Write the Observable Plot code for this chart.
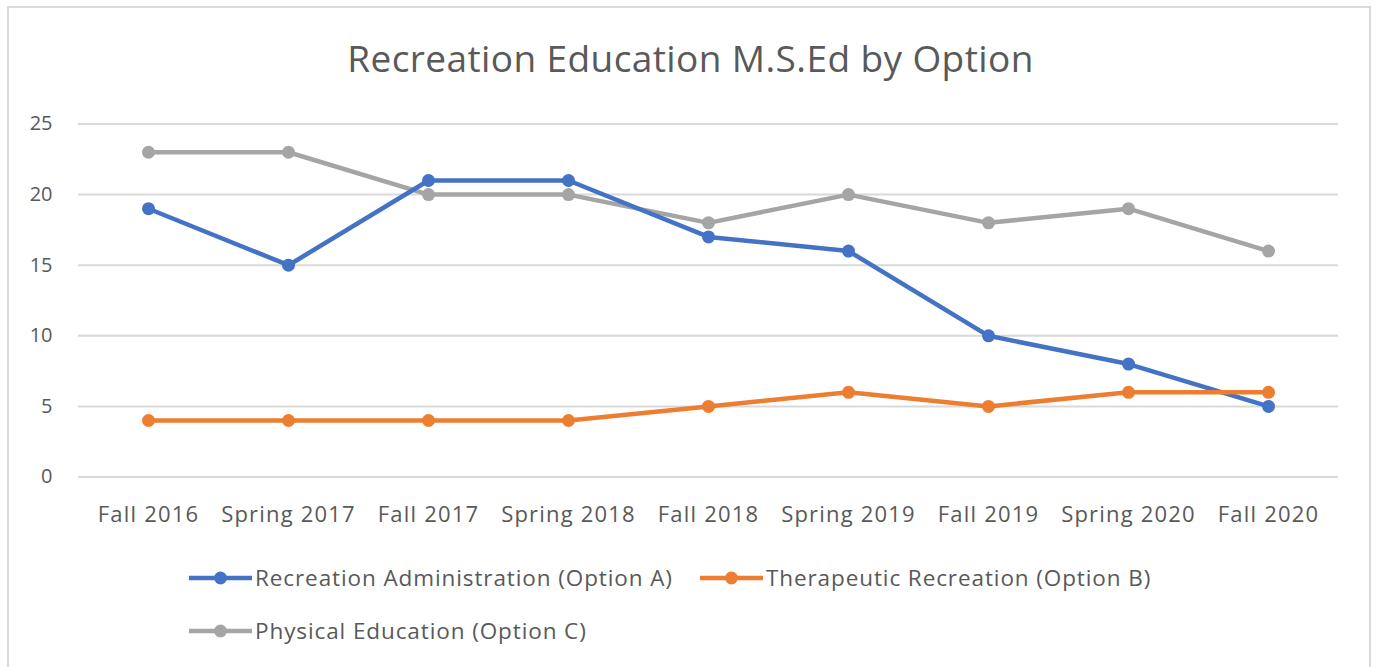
<!DOCTYPE html>
<html>
<head>
<meta charset="utf-8">
<script src="https://cdn.jsdelivr.net/npm/d3@7"></script>
<script src="https://cdn.jsdelivr.net/npm/@observablehq/plot@0.6"></script>
<style>
  html, body { margin: 0; padding: 0; background: #fff; overflow: hidden; }
  #wrap { position: relative; width: 1381px; height: 667px; font-family: "Open Sans", sans-serif; color: #595959; }
  #frame { position: absolute; left: 7px; top: 6px; width: 1364px; height: 700px; border: 2px solid #d9d9d9; box-sizing: border-box; }
  #title { position: absolute; left: 0; width: 1381px; top: 32px; text-align: center; font-size: 37px; letter-spacing: 0.4px; line-height: 52px; color: #595959; }
  #chart { position: absolute; left: 0; top: 0; }
  .leg { position: absolute; display: flex; align-items: center; font-size: 22.5px; letter-spacing: 0.9px; color: #595959; white-space: nowrap; }
  .leg svg { margin-right: 3px; }
  #chart svg g[aria-label="x-axis tick label"] text { letter-spacing: 1.2px; }
</style>
</head>
<body>
<div id="wrap">
  <div id="frame"></div>
  <div id="chart"></div>
  <div id="title">Recreation Education M.S.Ed by Option</div>
  <div id="legend"></div>
</div>
<script>
const categories = ["Fall 2016", "Spring 2017", "Fall 2017", "Spring 2018", "Fall 2018", "Spring 2019", "Fall 2019", "Spring 2020", "Fall 2020"];
const seriesNames = ["Recreation Administration (Option A)", "Therapeutic Recreation (Option B)", "Physical Education (Option C)"];
const optionA = [19, 15, 21, 21, 17, 16, 10, 8, 5];
const optionB = [4, 4, 4, 4, 5, 6, 5, 6, 6];
const optionC = [23, 23, 20, 20, 18, 20, 18, 19, 16];
const colors = ["#4472C4", "#ED7D31", "#A5A5A5"];
const yTicks = [0, 5, 10, 15, 20, 25];

const seriesValues = [optionA, optionB, optionC];
const data = [];
// draw order: C (gray) first, then A, then B on top
[2, 0, 1].forEach(si => {
  categories.forEach((c, i) => data.push({ series: seriesNames[si], cat: c, value: seriesValues[si][i] }));
});

const chart = Plot.plot({
  width: 1381,
  height: 540,
  marginLeft: 78,
  marginRight: 43,
  marginTop: 123.5,
  marginBottom: 63.5,
  style: { fontFamily: "Open Sans, sans-serif", fontSize: "20px", color: "#595959", background: "transparent", overflow: "visible" },
  x: { type: "point", domain: categories, padding: 0.5, label: null },
  y: { domain: [0, 25], label: null },
  color: { domain: seriesNames, range: colors },
  marks: [
    Plot.gridY(yTicks, { stroke: "#d9d9d9", strokeOpacity: 1, strokeWidth: 2 }),
    Plot.axisX({ tickSize: 0, tickPadding: 29, fontSize: 22, fill: "#595959", label: null }),
    Plot.axisY({ ticks: yTicks, tickSize: 0, tickPadding: 26, fontSize: 20, fill: "#595959", label: null }),
    Plot.line(data, { x: "cat", y: "value", z: "series", stroke: "series", strokeWidth: 4.5, strokeLinejoin: "round", strokeLinecap: "round" }),
    Plot.dot(data, { x: "cat", y: "value", fill: "series", r: 6.5 })
  ]
});
document.getElementById("chart").appendChild(chart);

// Legend (HTML)
const legPos = [
  { left: 189, top: 562 },
  { left: 700, top: 562 },
  { left: 189, top: 615 }
];
const legend = document.getElementById("legend");
seriesNames.forEach((name, i) => {
  const item = document.createElement("div");
  item.className = "leg";
  item.style.left = legPos[i].left + "px";
  item.style.top = legPos[i].top + "px";
  item.innerHTML = `<svg width="63" height="30"><line x1="0" x2="63" y1="15" y2="15" stroke="${colors[i]}" stroke-width="4.5"/><circle cx="31.5" cy="15" r="6.5" fill="${colors[i]}"/></svg><span>${name}</span>`;
  legend.appendChild(item);
});
</script>
</body>
</html>
